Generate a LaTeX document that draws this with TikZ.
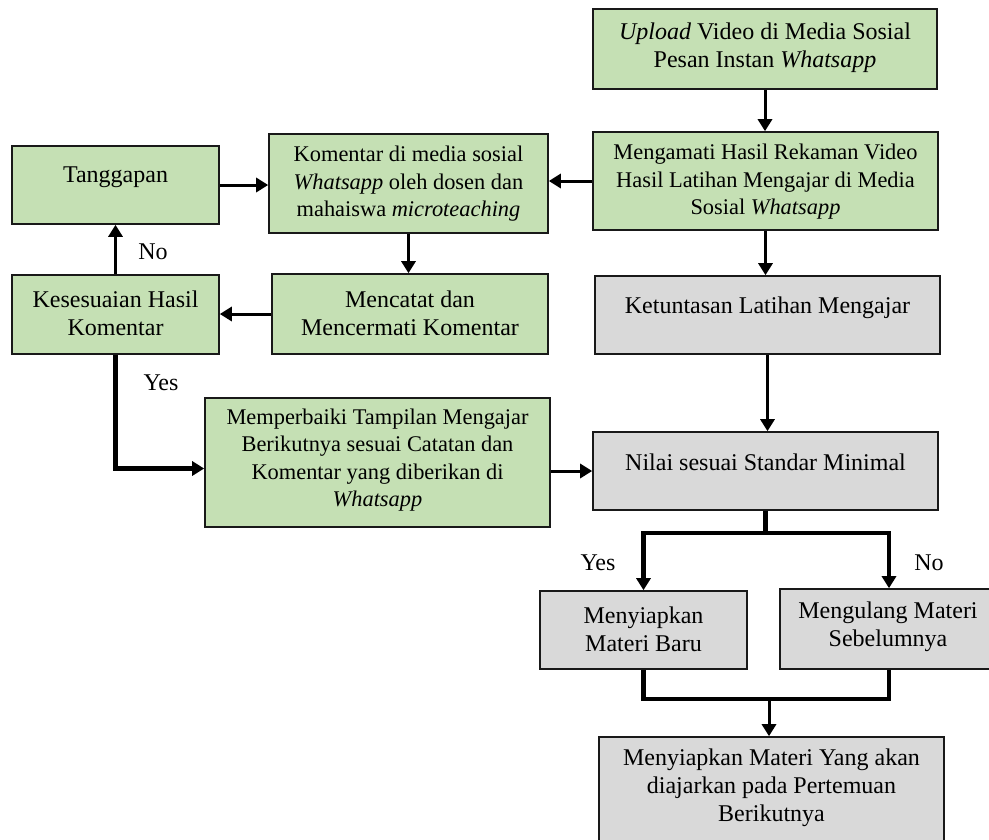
\documentclass[tikz,border=0pt]{standalone}
\usepackage{fontspec}
\setmainfont{Liberation Serif}
\usetikzlibrary{arrows.meta,calc}
\definecolor{gfill}{HTML}{C5E0B4}
\definecolor{kfill}{HTML}{D9D9D9}
\tikzset{
  boxbase/.style={draw=black!90, line width=1.6pt, inner sep=0pt, rectangle},
  gbox/.style={boxbase, fill=gfill},
  kbox/.style={boxbase, fill=kfill},
  txt/.style={inner sep=0pt, align=center, font=\fontsize{24}{28}\selectfont},
  smalltxt/.style={txt, font=\fontsize{22.4}{27.5}\selectfont},
  arr/.style={line width=3pt, line join=miter, -{Triangle[length=12pt,width=14pt]}},
  thk/.style={line width=4.5pt, line join=miter},
  thkarr/.style={line width=4.5pt, line join=miter, -{Triangle[length=12pt,width=14pt]}},
  lbl/.style={inner sep=0pt, font=\fontsize{24}{28}\selectfont}
}
\begin{document}
\begin{tikzpicture}[x=1pt,y=-1pt]
\path[use as bounding box] (0,0) rectangle (989,839);
\clip (0,0) rectangle (989,839);
\fill[white] (0,0) rectangle (989,839);

% boxes
\node[gbox, minimum width=344pt, minimum height=80pt] (up) at (765,49) {};
\node[gbox, minimum width=345pt, minimum height=98pt] (amati) at (765.5,181) {};
\node[gbox, minimum width=279pt, minimum height=99pt] (komen) at (408.5,183.5) {};
\node[gbox, minimum width=207pt, minimum height=78pt] (tangg) at (115.5,185) {};
\node[gbox, minimum width=207pt, minimum height=79pt] (sesuai) at (115.5,314.5) {};
\node[gbox, minimum width=276pt, minimum height=80pt] (catat) at (410,314) {};
\node[kbox, minimum width=345pt, minimum height=78pt] (tuntas) at (767.5,315) {};
\node[gbox, minimum width=345pt, minimum height=129pt] (baiki) at (377.5,462.5) {};
\node[kbox, minimum width=345pt, minimum height=78pt] (nilai) at (765.5,471) {};
\node[kbox, minimum width=207pt, minimum height=78pt] (baru) at (643.5,630) {};
\node[kbox, minimum width=218pt, minimum height=80pt] (ulang) at (889,629) {};
\node[kbox, minimum width=345pt, minimum height=106pt] (akhir) at (771.5,790) {};

% texts
\node[txt] (upt) at (765,48) {\textit{Upload} Video di Media Sosial\\Pesan Instan \textit{Whatsapp}};
\node[smalltxt] (amatit) at (765.5,182) {Mengamati Hasil Rekaman Video\\Hasil Latihan Mengajar di Media\\Sosial \textit{Whatsapp}};
\node[smalltxt] (koment) at (408.5,184) {Komentar di media sosial\\\textit{Whatsapp} oleh dosen dan\\mahaiswa \textit{microteaching}};
\node[txt] (tanggt) at (115.5,177) {Tanggapan};
\node[txt] (sesuait) at (115.5,313.5) {Kesesuaian Hasil\\Komentar};
\node[txt] (catatt) at (410,313) {Mencatat dan\\Mencermati Komentar};
\node[txt] (tuntast) at (767.5,308) {Ketuntasan Latihan Mengajar};
\node[smalltxt] (baikit) at (377.5,460) {Memperbaiki Tampilan Mengajar\\Berikutnya sesuai Catatan dan\\Komentar yang diberikan di\\\textit{Whatsapp}};
\node[txt] (nilait) at (765.5,462) {Nilai sesuai Standar Minimal};
\node[txt] (barut) at (643.5,629.5) {Menyiapkan\\Materi Baru};
\node[txt] (ulangt) at (888,627) {Mengulang Materi\\Sebelumnya};
\node[txt] (akhirt) at (771.5,788) {Menyiapkan Materi Yang akan\\diajarkan pada Pertemuan\\Berikutnya};

% labels
\node[lbl] (no1) at (153,252) {No};
\node[lbl] (yes1) at (161,383) {Yes};
\node[lbl] (yes2) at (598,563) {Yes};
\node[lbl] (no2) at (929,563) {No};

% connectors
\draw[arr] (up.south) -- (up.south |- amati.north);
\draw[arr] (amati.west) -- (amati.west -| komen.east);
\draw[arr] (tangg.east) -- (tangg.east -| komen.west);
\draw[arr] (komen.south) -- (komen.south |- catat.north);
\draw[arr] (catat.west) -- (catat.west -| sesuai.east);
\draw[arr] (sesuai.north) -- (sesuai.north |- tangg.south);
\draw[thkarr] (sesuai.south) |- ($(baiki.west)+(0,6)$);
\draw[arr] (baiki.east |- nilai.west) -- (nilai.west);
\draw[arr] (amati.south) -- (amati.south |- tuntas.north);
\draw[arr] (tuntas.south) -- (tuntas.south |- nilai.north);

\coordinate (split) at (766,533);
\coordinate (merge) at (769,699);
\draw[thk] (nilai.south) -- (nilai.south |- split);
\draw[thkarr] (split) -| (baru.north);
\draw[thkarr] (split) -| (ulang.north);
\draw[thk] (baru.south) |- (merge);
\draw[thk] (ulang.south) |- (merge);
\draw[arr] (merge) -- (merge |- akhir.north);
\end{tikzpicture}
\end{document}
